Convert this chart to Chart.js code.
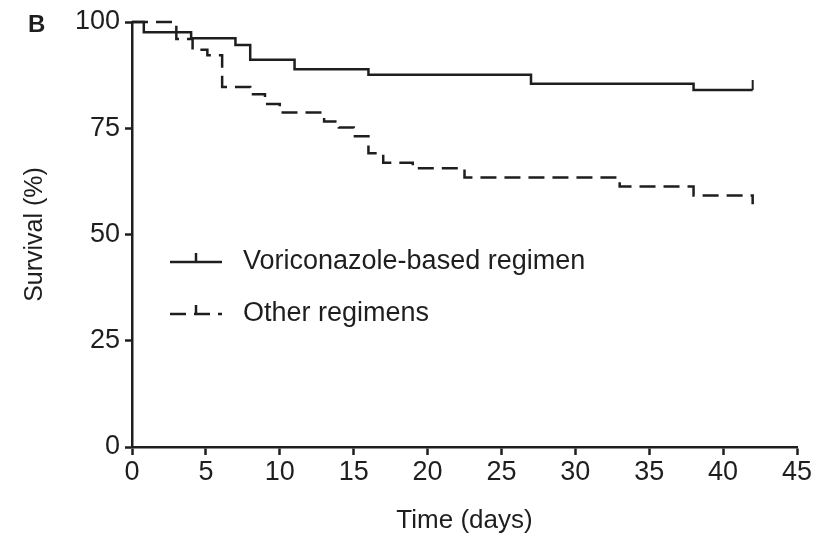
<!DOCTYPE html>
<html>
<head>
<meta charset="utf-8">
<script src="https://cdn.jsdelivr.net/npm/chart.js@4"></script>
<style>
  html, body { margin: 0; padding: 0; background: #fff; }
  #wrap { width: 825px; height: 536px; }
</style>
</head>
<body>
<div id="wrap"><canvas id="chart"></canvas></div>
<script>
// Kaplan-Meier steps (days, survival %)
const voriDays = [0, 0.8, 4, 7, 8, 11, 16, 27, 38, 42];
const voriSurv = [100, 97.6, 96.2, 94.6, 91.1, 88.9, 87.6, 85.5, 84, 84];
const otherDays = [0, 3, 4.1, 5.1, 6.1, 8, 9, 10, 13, 14, 15, 16, 17, 19, 22.5, 33, 38, 42];
const otherSurv = [100, 96, 93.5, 92.2, 84.7, 83, 80.7, 78.7, 76.6, 75.2, 73.1, 69.1, 66.9, 65.6, 63.4, 61.3, 59.2, 57.1];
const seriesNames = ['Voriconazole-based regimen', 'Other regimens'];
const xTicks = [0, 5, 10, 15, 20, 25, 30, 35, 40, 45];
const yTicks = [0, 25, 50, 75, 100];

const ink = '#1e1e1e';
const fontFam = '"Liberation Sans", Arial, sans-serif';

// small upward censor tick used as point style
function censorTick() {
    const c = document.createElement('canvas');
    c.width = 4; c.height = 20;
    const g = c.getContext('2d');
    g.fillStyle = ink;
    g.fillRect(1, 0, 2, 10);
    return c;
}
const tick = censorTick();

function toPoints(xs, ys) {
    return xs.map((x, i) => ({x: x, y: ys[i]}));
}
function lastOnly(len) {
    return ctx => ctx.dataIndex === len - 1 ? 4 : 0;
}

const panelLegend = {
    id: 'panelLegend',
    afterDraw(chart) {
        const ctx = chart.ctx;
        const area = chart.chartArea;
        ctx.save();
        // panel letter
        ctx.fillStyle = ink;
        ctx.font = 'bold 24px ' + fontFam;
        ctx.textBaseline = 'middle';
        ctx.textAlign = 'left';
        ctx.fillText('B', 28, 25);

        const rows = [area.top + 240, area.top + 292];
        chart.data.datasets.forEach((ds, i) => {
            const y = rows[i];
            const x0 = area.left + 38;
            ctx.strokeStyle = ds.borderColor;
            ctx.lineWidth = ds.borderWidth;
            ctx.setLineDash(ds.borderDash || []);
            ctx.beginPath();
            ctx.moveTo(x0, y);
            ctx.lineTo(x0 + 52, y);
            ctx.stroke();
            ctx.setLineDash([]);
            ctx.beginPath();
            ctx.moveTo(x0 + 26, y);
            ctx.lineTo(x0 + 26, y - 9);
            ctx.stroke();
            ctx.fillStyle = ink;
            ctx.font = '27px ' + fontFam;
            ctx.fillText(seriesNames[i], x0 + 73, y);
        });
        ctx.restore();
    }
};

new Chart(document.getElementById('chart'), {
    type: 'line',
    data: {
        datasets: [{
            label: seriesNames[0],
            data: toPoints(voriDays, voriSurv),
            borderColor: ink,
            borderWidth: 2.5,
            stepped: true,
            fill: false,
            clip: false,
            pointStyle: tick,
            pointRadius: lastOnly(voriDays.length)
        }, {
            label: seriesNames[1],
            data: toPoints(otherDays, otherSurv),
            borderColor: ink,
            borderWidth: 2.5,
            borderDash: [16, 8],
            stepped: true,
            fill: false,
            clip: false,
            pointRadius: 0
        }]
    },
    options: {
        responsive: true,
        maintainAspectRatio: false,
        animation: false,
        layout: { padding: { top: 22, right: 28, left: 0, bottom: 0 } },
        plugins: {
            legend: { display: false },
            tooltip: { enabled: false }
        },
        scales: {
            x: {
                type: 'linear',
                min: 0,
                max: 45,
                afterBuildTicks: s => { s.ticks = xTicks.map(v => ({value: v})); },
                afterFit: s => { s.height = 89; },
                border: { color: ink, width: 2.5 },
                grid: { drawOnChartArea: false, drawTicks: true, tickLength: 8, tickColor: ink, tickWidth: 2.5 },
                ticks: { color: ink, font: { family: fontFam, size: 27 }, padding: 1, maxRotation: 0 },
                title: { display: true, text: 'Time (days)', color: ink, font: { family: fontFam, size: 26 }, padding: { top: 0, bottom: 0 } }
            },
            y: {
                min: 0,
                max: 100,
                afterBuildTicks: s => { s.ticks = yTicks.map(v => ({value: v})); },
                afterFit: s => { s.width = 132; },
                border: { color: ink, width: 2.5 },
                grid: { drawOnChartArea: false, drawTicks: true, tickLength: 7, tickColor: ink, tickWidth: 2.5 },
                ticks: { color: ink, font: { family: fontFam, size: 27 }, padding: 5 },
                title: { display: true, text: 'Survival (%)', color: ink, font: { family: fontFam, size: 25 }, padding: { top: 20, bottom: 0 } }
            }
        }
    },
    plugins: [panelLegend]
});
</script>
</body>
</html>
